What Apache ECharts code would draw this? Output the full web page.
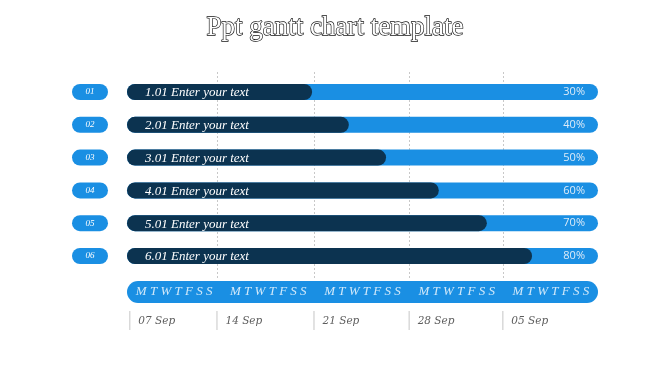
<!DOCTYPE html>
<html><head><meta charset="utf-8">
<script src="https://cdn.jsdelivr.net/npm/echarts@6/dist/echarts.min.js"></script>
<style>html,body{margin:0;padding:0;background:#fff}#c{width:670px;height:376px}</style>
</head><body><div id="c"></div>
<script>
var rowIds = ['01','02','03','04','05','06'];
var taskNames = ['1.01 Enter your text','2.01 Enter your text','3.01 Enter your text','4.01 Enter your text','5.01 Enter your text','6.01 Enter your text'];
var progress = [39.3, 47.1, 55.0, 66.2, 76.4, 86.0];
var pctLabels = ['30%','40%','50%','60%','70%','80%'];
var fullTrack = [100, 100, 100, 100, 100, 100];
var weekCenters = [10, 30, 50, 70, 90];
var weekText = 'M T W T F S S';
var dateTicks = [0.6, 19.1, 39.7, 59.9, 79.8];
var dateLabels = ['07 Sep','14 Sep','21 Sep','28 Sep','05 Sep'];
var gridLines = [19.1, 39.7, 59.9, 79.8];

var DARK = '#0c3350', BLUE = '#1a8fe3';
var SERIF = '"Liberation Serif", "DejaVu Serif", serif';
var DSERIF = '"DejaVu Serif", serif';

var chart = echarts.init(document.getElementById('c'), null, {renderer:'canvas'});
var gl = 127, gw = 471;
chart.setOption({
  animation: false,
  title: {
    text: 'Ppt gantt chart template', left: 'center', top: 9,
    textStyle: {fontFamily: SERIF, fontSize: 27, fontWeight: 'normal', color: '#fff', textBorderColor: '#111', textBorderWidth: 1.3}
  },
  grid: [
    {left: gl, width: gw, top: 75.6, height: 196.8},
    {left: gl, width: gw, top: 281, height: 22},
    {left: gl, width: gw, top: 311, height: 19},
    {left: gl, width: gw, top: 70, height: 208}
  ],
  xAxis: [0,1,2,3].map(function(i){ return {type:'value', gridIndex:i, min:0, max:100, show:false}; }),
  yAxis: [
    {type:'category', gridIndex:0, inverse:true, data: rowIds,
     axisLine:{show:false}, axisTick:{show:false},
     axisLabel:{margin:19, formatter: function(v){ return '{p|' + v + '}'; },
       rich:{p:{backgroundColor:BLUE, borderRadius:8, width:36, height:16, align:'center', lineHeight:16,
         color:'#fff', fontStyle:'italic', fontFamily:SERIF, fontSize:9}}}},
    {type:'category', gridIndex:1, data:['w'], show:false},
    {type:'category', gridIndex:2, data:['d'], show:false},
    {type:'category', gridIndex:3, data:['g'], show:false}
  ],
  series: [
    {type:'line', xAxisIndex:3, yAxisIndex:3, data:[], silent:true, z:1, zlevel:0,
     markLine:{silent:true, z:1, symbol:['none','none'], label:{show:false},
       lineStyle:{type:[2,2], color:'#c8c8c8', width:1},
       data: gridLines.map(function(v){ return {xAxis:v}; })}},
    {type:'bar', xAxisIndex:0, yAxisIndex:0, data: fullTrack, barWidth:16, z:10,
     itemStyle:{color:BLUE, borderRadius:8},
     label:{show:true, position:'insideRight', distance:13, color:'#dcebf8', fontFamily:'"Open Sans", sans-serif', fontSize:11,
       formatter:function(p){ return pctLabels[p.dataIndex]; }}},
    {type:'bar', xAxisIndex:0, yAxisIndex:0, data: progress, barWidth:16, barGap:'-100%', z:11,
     itemStyle:{color:DARK, borderRadius:8},
     label:{show:true, position:'insideLeft', distance:18, offset:[0,1], color:'#fff', fontFamily:SERIF, fontStyle:'italic', fontSize:13,
       formatter:function(p){ return taskNames[p.dataIndex]; }}},
    {type:'bar', xAxisIndex:1, yAxisIndex:1, data:[100], barWidth:22, itemStyle:{color:BLUE, borderRadius:11}},
    {type:'scatter', xAxisIndex:1, yAxisIndex:1, symbolSize:0, z:5,
     data: weekCenters.map(function(v){ return [v, 0]; }),
     label:{show:true, position:'inside', color:'#fff', fontFamily:SERIF, fontStyle:'italic', fontSize:13,
       formatter:function(){ return weekText; }}},
    {type:'scatter', xAxisIndex:2, yAxisIndex:2, symbol:'rect', symbolSize:[1,19],
     itemStyle:{color:'#b8b8b8'},
     data: dateTicks.map(function(v){ return [v, 0]; }),
     label:{show:true, position:'right', distance:8, offset:[0,1], color:'#333', fontFamily:DSERIF, fontStyle:'italic', fontSize:10.5,
       formatter:function(p){ return dateLabels[p.dataIndex]; }}}
  ]
});
</script></body></html>
